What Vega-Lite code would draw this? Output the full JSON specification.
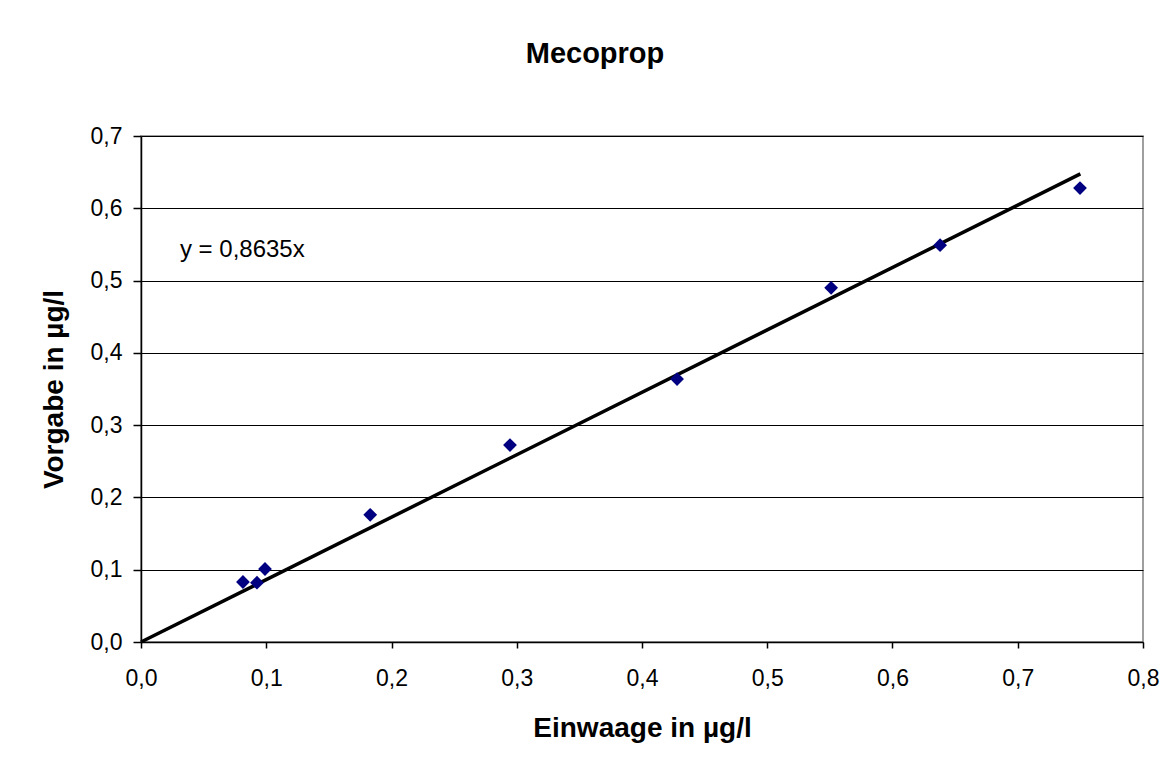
{
  "$schema": "https://vega.github.io/schema/vega-lite/v6.json",
  "width": 1002,
  "height": 506,
  "autosize": {"type": "none"},
  "padding": {"left": 141, "top": 136, "right": 26, "bottom": 129},
  "background": "white",
  "config": {
    "view": {"stroke": "#808080", "strokeWidth": 1.5},
    "font": "Liberation Sans"
  },
  "title": {
    "text": "Mecoprop",
    "font": "Liberation Sans",
    "fontSize": 29,
    "fontWeight": "bold",
    "color": "black",
    "anchor": "middle",
    "dx": -47,
    "offset": 56
  },
  "datasets": {
    "points": [
      {"einwaage": 0.0814, "vorgabe": 0.083},
      {"einwaage": 0.0926, "vorgabe": 0.082},
      {"einwaage": 0.099, "vorgabe": 0.101},
      {"einwaage": 0.183, "vorgabe": 0.176},
      {"einwaage": 0.2946, "vorgabe": 0.2725},
      {"einwaage": 0.428, "vorgabe": 0.3638},
      {"einwaage": 0.551, "vorgabe": 0.490},
      {"einwaage": 0.638, "vorgabe": 0.549},
      {"einwaage": 0.7497, "vorgabe": 0.628}
    ],
    "trend": [
      {"einwaage": 0.0, "vorgabe": 0.0},
      {"einwaage": 0.75, "vorgabe": 0.6476}
    ],
    "label": [
      {"einwaage": 0.0311, "vorgabe": 0.5325, "text": "y = 0,8635x"}
    ]
  },
  "layer": [
    {
      "data": {"name": "trend"},
      "mark": {"type": "line", "color": "black", "strokeWidth": 3.5},
      "encoding": {
        "x": {
          "field": "einwaage",
          "type": "quantitative",
          "scale": {"domain": [0, 0.8], "nice": false, "zero": true},
          "axis": {
            "title": "Einwaage in µg/l",
            "titleFont": "Liberation Sans",
            "titleFontSize": 28,
            "titleFontWeight": "bold",
            "titleColor": "black",
            "titlePadding": 24,
            "values": [0, 0.1, 0.2, 0.3, 0.4, 0.5, 0.6, 0.7, 0.8],
            "labelExpr": "replace(format(datum.value, '.1f'), '.', ',')",
            "labelFont": "Liberation Sans",
            "labelFontSize": 23,
            "labelColor": "black",
            "labelPadding": 19,
            "labelFlush": false,
            "labelOverlap": false,
            "grid": false,
            "domainColor": "black",
            "domainWidth": 1.5,
            "tickColor": "black",
            "tickWidth": 1.5,
            "tickSize": 6
          }
        },
        "y": {
          "field": "vorgabe",
          "type": "quantitative",
          "scale": {"domain": [0, 0.7], "nice": false, "zero": true},
          "axis": {
            "title": "Vorgabe in µg/l",
            "titleFont": "Liberation Sans",
            "titleFontSize": 28,
            "titleFontWeight": "bold",
            "titleColor": "black",
            "titlePadding": 22,
            "values": [0, 0.1, 0.2, 0.3, 0.4, 0.5, 0.6, 0.7],
            "labelExpr": "replace(format(datum.value, '.1f'), '.', ',')",
            "labelFont": "Liberation Sans",
            "labelFontSize": 23,
            "labelColor": "black",
            "labelPadding": 11,
            "labelFlush": false,
            "labelOverlap": false,
            "grid": true,
            "gridColor": "black",
            "gridWidth": 1,
            "domainColor": "black",
            "domainWidth": 1.5,
            "tickColor": "black",
            "tickWidth": 1.5,
            "tickSize": 8
          }
        }
      }
    },
    {
      "data": {"name": "points"},
      "mark": {"type": "point", "shape": "diamond", "filled": true, "color": "#000080", "size": 190, "opacity": 1},
      "encoding": {
        "x": {"field": "einwaage", "type": "quantitative"},
        "y": {"field": "vorgabe", "type": "quantitative"}
      }
    },
    {
      "data": {"name": "label"},
      "mark": {"type": "text", "align": "left", "baseline": "alphabetic", "font": "Liberation Sans", "fontSize": 24, "color": "black"},
      "encoding": {
        "x": {"field": "einwaage", "type": "quantitative"},
        "y": {"field": "vorgabe", "type": "quantitative"},
        "text": {"field": "text"}
      }
    }
  ]
}
